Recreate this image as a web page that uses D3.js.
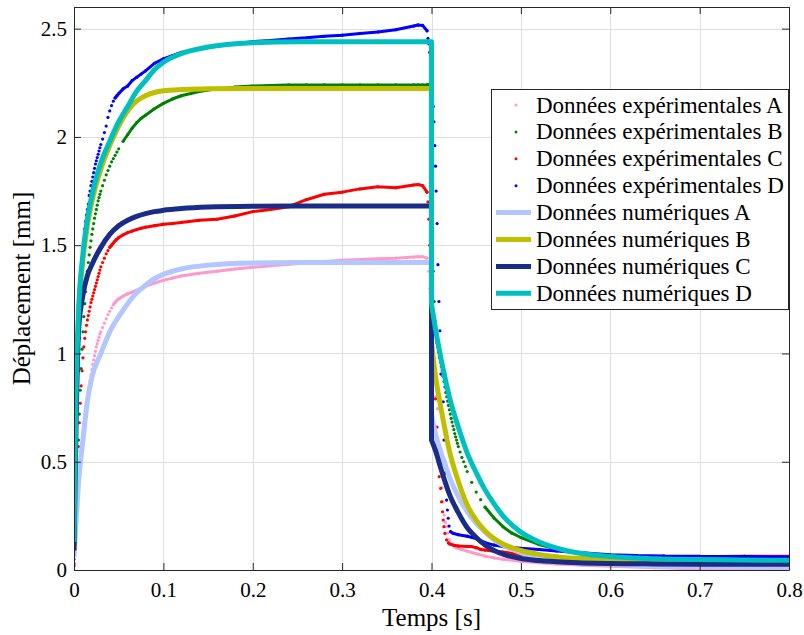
<!DOCTYPE html>
<html><head><meta charset="utf-8">
<script src="https://cdn.jsdelivr.net/npm/d3@7"></script>
<style>
body{margin:0;background:#fff}
svg{display:block}
text{font-family:"Liberation Serif","Times New Roman",serif;fill:#000}
</style>
</head><body>
<svg id="chart" width="804" height="635"></svg>
<script>
// ---------- data ----------
const xTicks = [0,0.1,0.2,0.3,0.4,0.5,0.6,0.7,0.8];
const xTickLabels = ["0","0.1","0.2","0.3","0.4","0.5","0.6","0.7","0.8"];
const yTicks = [0,0.5,1,1.5,2,2.5];
const yTickLabels = ["0","0.5","1","1.5","2","2.5"];
const xLabel = "Temps [s]";
const yLabel = "Déplacement [mm]";
const legendLabels = ["Données expérimentales A","Données expérimentales B","Données expérimentales C","Données expérimentales D",
  "Données numériques A","Données numériques B","Données numériques C","Données numériques D"];

// experimental readings, loading phase (shared time base)
const expRiseT = [0,0.001,0.002,0.003,0.004,0.005,0.006,0.007,0.008,0.009,
  0.010,0.011,0.012,0.013,0.014,0.015,0.016,0.017,0.018,0.019,
  0.020,0.021,0.022,0.023,0.024,0.025,0.026,0.027,0.028,0.029,
  0.030,0.032,0.034,0.036,0.038,0.040,0.042,0.044,0.046,0.048,
  0.050,0.055,0.060,0.065,0.070,0.075,0.080,0.090,0.100,0.110,
  0.120,0.140,0.160,0.180,0.200,0.220,0.240,0.260,0.280,0.300,
  0.320,0.340,0.360,0.380,0.385,0.390,0.395];
const expA_rise = [0.03,0.08,0.15,0.22,0.29,0.36,0.42,0.48,0.54,0.59,
  0.64,0.68,0.715,0.745,0.775,0.80,0.825,0.85,0.875,0.90,
  0.925,0.95,0.97,0.99,1.01,1.03,1.045,1.06,1.075,1.09,
  1.10,1.12,1.14,1.16,1.18,1.195,1.21,1.225,1.235,1.245,
  1.252,1.265,1.275,1.283,1.292,1.30,1.31,1.325,1.338,1.348,
  1.358,1.37,1.38,1.39,1.398,1.405,1.412,1.418,1.425,1.43,
  1.434,1.437,1.44,1.445,1.447,1.447,1.44];
const expB_rise = [0.05,0.12,0.22,0.34,0.47,0.60,0.72,0.83,0.93,1.02,
  1.10,1.17,1.23,1.285,1.335,1.38,1.42,1.455,1.49,1.52,
  1.55,1.575,1.60,1.625,1.645,1.665,1.685,1.705,1.72,1.735,
  1.75,1.775,1.80,1.825,1.845,1.865,1.885,1.90,1.915,1.93,
  1.945,1.98,2.01,2.04,2.065,2.085,2.10,2.13,2.155,2.175,
  2.19,2.21,2.222,2.23,2.235,2.238,2.24,2.24,2.24,2.24,
  2.24,2.24,2.24,2.24,2.24,2.24,2.24];
const expC_rise = [0.03,0.10,0.20,0.32,0.45,0.57,0.68,0.77,0.85,0.92,
  0.98,1.03,1.07,1.10,1.13,1.155,1.175,1.195,1.215,1.235,
  1.25,1.265,1.28,1.295,1.31,1.325,1.34,1.355,1.37,1.385,
  1.40,1.42,1.44,1.46,1.475,1.49,1.50,1.51,1.52,1.528,
  1.535,1.548,1.558,1.565,1.572,1.578,1.583,1.59,1.597,1.60,
  1.605,1.615,1.62,1.635,1.655,1.665,1.678,1.71,1.735,1.745,
  1.76,1.77,1.765,1.778,1.78,1.775,1.745];
const expD_rise = [0.02,0.15,0.35,0.55,0.75,0.92,1.07,1.20,1.30,1.39,
  1.46,1.52,1.575,1.61,1.64,1.665,1.69,1.73,1.75,1.775,
  1.795,1.815,1.835,1.855,1.875,1.89,1.905,1.92,1.935,1.95,
  1.965,1.99,2.02,2.05,2.09,2.12,2.145,2.165,2.18,2.19,
  2.20,2.222,2.235,2.26,2.275,2.29,2.305,2.34,2.36,2.375,
  2.39,2.405,2.42,2.43,2.44,2.445,2.452,2.458,2.465,2.47,
  2.478,2.485,2.495,2.512,2.517,2.515,2.49];

// experimental readings, unloading phase
const expA_fallT = [0.396,0.397,0.398,0.399,0.400,0.401,0.402,0.403,0.4045,0.4068,
  0.4086,0.4094,0.4105,0.4118,0.413,0.4142,0.4155,0.4168,0.418,0.420,
  0.423,0.427,0.433,0.440,0.450,0.460,0.470,0.480,0.500,0.520,
  0.540,0.570,0.600,0.650,0.700,0.750,0.800];
const expA_fall = [1.42,1.38,1.30,1.22,1.13,1.04,0.95,0.87,0.80,0.745,
  0.57,0.539,0.49,0.38,0.315,0.254,0.22,0.20,0.17,0.14,
  0.118,0.105,0.095,0.087,0.075,0.064,0.056,0.05,0.04,0.034,
  0.028,0.022,0.017,0.01,0.005,0.002,0.0];
const expB_fallT = [0.396,0.397,0.398,0.399,0.400,0.401,0.402,0.403,0.404,0.405,
  0.406,0.407,0.408,0.409,0.410,0.411,0.412,0.413,0.414,0.415,
  0.416,0.417,0.418,0.419,0.420,0.421,0.422,0.423,0.424,0.425,
  0.426,0.427,0.428,0.429,0.430,0.432,0.434,0.436,0.438,0.440,
  0.445,0.450,0.455,0.460,0.470,0.480,0.490,0.500,0.520,0.540,
  0.560,0.580,0.600,0.650,0.700,0.750,0.800];
const expB_fall = [2.24,2.24,2.235,2.15,1.90,1.60,1.38,1.24,1.15,1.09,
  1.05,1.03,1.005,0.98,0.96,0.94,0.92,0.895,0.87,0.845,
  0.82,0.80,0.78,0.76,0.74,0.72,0.70,0.683,0.665,0.648,
  0.63,0.615,0.60,0.585,0.57,0.545,0.52,0.50,0.478,0.455,
  0.405,0.36,0.325,0.29,0.24,0.20,0.17,0.15,0.118,0.097,
  0.082,0.072,0.064,0.055,0.05,0.048,0.046];
const expC_fallT = [0.396,0.397,0.398,0.399,0.400,0.401,0.402,0.403,0.4046,0.4062,
  0.4075,0.4086,0.4102,0.4113,0.4124,0.4131,0.4139,0.415,0.4169,0.419,
  0.4206,0.425,0.430,0.440,0.445,0.450,0.455,0.460,0.470,0.480,
  0.500,0.520,0.540,0.560,0.580,0.600,0.630,0.660,0.700,0.720,
  0.750,0.800];
const expC_fall = [1.70,1.62,1.50,1.37,1.25,1.12,1.00,0.92,0.79,0.66,
  0.554,0.431,0.377,0.315,0.269,0.231,0.20,0.169,0.139,0.125,
  0.12,0.114,0.111,0.109,0.108,0.103,0.095,0.092,0.087,0.083,
  0.07,0.064,0.06,0.056,0.054,0.053,0.052,0.054,0.058,0.062,
  0.064,0.063];
const expD_fallT = [0.396,0.397,0.398,0.399,0.400,0.401,0.402,0.4027,0.4037,0.4045,
  0.4052,0.4063,0.4072,0.4083,0.4094,0.4105,0.4131,0.414,0.415,0.4169,
  0.4178,0.4187,0.4197,0.4213,0.424,0.430,0.440,0.450,0.460,0.470,
  0.480,0.500,0.520,0.540,0.560,0.580,0.600,0.630,0.660,0.700,
  0.750,0.800];
const expD_fall = [2.455,2.43,2.39,2.34,2.28,2.21,2.14,2.07,1.96,1.865,
  1.75,1.60,1.41,1.24,1.105,0.905,0.777,0.60,0.447,0.323,
  0.277,0.239,0.203,0.177,0.17,0.163,0.156,0.145,0.126,0.115,
  0.108,0.10,0.095,0.088,0.082,0.076,0.07,0.067,0.065,0.063,
  0.062,0.06];

// numerical results
const numRiseT = [0,0.002,0.005,0.01,0.015,0.02,0.03,0.04,0.05,0.06,0.07,0.08,0.09,0.1,0.12,0.15,0.2,0.25,0.3,0.35,0.4];
const numA_rise = [0.06,0.2,0.4,0.6,0.78,0.89,1.0,1.1,1.17,1.23,1.28,1.315,1.345,1.365,1.39,1.408,1.418,1.42,1.42,1.42,1.42];
const numB_rise = [0.12,0.74,1.16,1.43,1.59,1.70,1.85,1.96,2.05,2.12,2.165,2.19,2.205,2.213,2.219,2.222,2.224,2.224,2.224,2.224,2.224];
const numC_rise = [0.09,0.6,1.1,1.27,1.36,1.41,1.49,1.55,1.59,1.615,1.633,1.646,1.655,1.661,1.669,1.676,1.68,1.681,1.681,1.681,1.681];
const numD_rise = [0.13,0.75,1.18,1.46,1.62,1.73,1.88,1.98,2.07,2.14,2.21,2.26,2.31,2.345,2.385,2.415,2.435,2.44,2.44,2.44,2.44];
const numFallT = [0.4,0.405,0.41,0.415,0.42,0.43,0.44,0.45,0.46,0.47,0.48,0.5,0.52,0.55,0.6,0.65,0.7,0.8];
const numA_fall = [0.72,0.62,0.55,0.49,0.43,0.34,0.27,0.215,0.175,0.14,0.115,0.08,0.058,0.04,0.026,0.019,0.016,0.014];
const numB_fall = [1.05,0.88,0.76,0.65,0.55,0.41,0.30,0.23,0.18,0.145,0.12,0.09,0.072,0.057,0.049,0.046,0.045,0.044];
const numC_fall = [0.60,0.545,0.475,0.41,0.35,0.265,0.195,0.15,0.115,0.09,0.073,0.053,0.044,0.036,0.03,0.028,0.027,0.026];
const numD_fall = [1.23,1.10,0.99,0.89,0.80,0.66,0.54,0.45,0.37,0.305,0.25,0.175,0.13,0.09,0.062,0.052,0.048,0.045];

// ---------- styles ----------
const expColors = ["#ff99cc","#008000","#ff0000","#0000ff"];
const numColors = ["#b3c6ff","#bfbf00","#192d88","#00bfbf"];
const axisColor = "#262626";
const gridColor = "#dfdfdf";
const serif = '"Liberation Serif","Times New Roman",serif';

// ---------- chart ----------
const svg = d3.select("#chart");
const M = {left:74, right:789, top:7, bottom:570};
const x = d3.scaleLinear().domain([0,0.8]).range([M.left, M.right]);
const y = d3.scaleLinear().domain([0,2.6]).range([M.bottom, M.top]);

svg.append("defs").append("clipPath").attr("id","clip")
  .append("rect").attr("x",M.left).attr("y",M.top).attr("width",M.right-M.left).attr("height",M.bottom-M.top);

// grid
const grid = svg.append("g").attr("shape-rendering","crispEdges");
grid.selectAll("line.gx").data(xTicks).join("line")
  .attr("x1",d=>Math.round(x(d))+0.5).attr("x2",d=>Math.round(x(d))+0.5)
  .attr("y1",M.top).attr("y2",M.bottom).attr("stroke",gridColor);
grid.selectAll("line.gy").data(yTicks).join("line")
  .attr("y1",d=>Math.round(y(d))+0.5).attr("y2",d=>Math.round(y(d))+0.5)
  .attr("x1",M.left).attr("x2",M.right).attr("stroke",gridColor);

const plot = svg.append("g").attr("clip-path","url(#clip)");

function drawExp(times, vals, color){
  const pts = times.map((t,i)=>[x(t), y(vals[i])]);
  let d = "";
  for(let i=1;i<pts.length;i++){
    const [x0,y0]=pts[i-1],[x1,y1]=pts[i];
    if(Math.abs(y1-y0) <= 1.5*Math.abs(x1-x0)) d += `M${x0},${y0}L${x1},${y1}`;
  }
  const g = plot.append("g");
  if(d) g.append("path").attr("d",d).attr("fill","none").attr("stroke",color)
    .attr("stroke-width",3).attr("stroke-linecap","round");
  g.selectAll("circle").data(pts).join("circle")
    .attr("cx",p=>p[0]).attr("cy",p=>p[1]).attr("r",1.6).attr("fill",color);
}

const lineGen = d3.line().x(d=>x(d[0])).y(d=>y(d[1])).curve(d3.curveMonotoneX);
function drawNum(riseV, fallV, color){
  const dr = lineGen(d3.zip(numRiseT, riseV));
  const df = lineGen(d3.zip(numFallT, fallV));
  plot.append("path").attr("d", dr + df.replace(/^M/,"L"))
    .attr("fill","none").attr("stroke",color).attr("stroke-width",5)
    .attr("stroke-linejoin","round");
}

drawExp(expRiseT.concat(expA_fallT), expA_rise.concat(expA_fall), expColors[0]);
drawExp(expRiseT.concat(expB_fallT), expB_rise.concat(expB_fall), expColors[1]);
drawExp(expRiseT.concat(expC_fallT), expC_rise.concat(expC_fall), expColors[2]);
drawExp(expRiseT.concat(expD_fallT), expD_rise.concat(expD_fall), expColors[3]);
drawNum(numA_rise, numA_fall, numColors[0]);
drawNum(numB_rise, numB_fall, numColors[1]);
drawNum(numC_rise, numC_fall, numColors[2]);
drawNum(numD_rise, numD_fall, numColors[3]);

// axes
function styleAxis(g){
  g.attr("font-family", null).attr("font-size", null);
  g.select(".domain").attr("stroke",axisColor);
  g.selectAll(".tick line").attr("stroke",axisColor);
  g.selectAll(".tick text").style("fill","#000").style("font-size","21px").style("font-family",serif);
}
svg.append("g").attr("transform",`translate(0,${M.bottom})`)
  .call(d3.axisBottom(x).tickValues(xTicks).tickFormat((d,i)=>xTickLabels[i]).tickSizeInner(-7).tickSizeOuter(0).tickPadding(12))
  .call(styleAxis);
svg.append("g").attr("transform",`translate(0,${M.top})`)
  .call(d3.axisTop(x).tickValues(xTicks).tickFormat("").tickSizeInner(-7).tickSizeOuter(0))
  .call(styleAxis);
svg.append("g").attr("transform",`translate(${M.left},0)`)
  .call(d3.axisLeft(y).tickValues(yTicks).tickFormat((d,i)=>yTickLabels[i]).tickSizeInner(-7).tickSizeOuter(0).tickPadding(7))
  .call(styleAxis);
svg.append("g").attr("transform",`translate(${M.right},0)`)
  .call(d3.axisRight(y).tickValues(yTicks).tickFormat("").tickSizeInner(-7).tickSizeOuter(0))
  .call(styleAxis);

// axis labels
svg.append("text").attr("x",(M.left+M.right)/2).attr("y",626).attr("text-anchor","middle")
  .style("font-size","25px").style("font-family",serif).text(xLabel);
svg.append("text").attr("transform",`translate(30,${(M.top+M.bottom)/2}) rotate(-90)`)
  .attr("text-anchor","middle").style("font-size","25px").style("font-family",serif).text(yLabel);

// legend
const L = {x:491, y:89, w:297, h:220, row0:105, step:26.9};
const leg = svg.append("g");
leg.append("rect").attr("x",L.x+0.5).attr("y",L.y+0.5).attr("width",L.w).attr("height",L.h)
  .attr("fill","#fff").attr("stroke",axisColor).attr("stroke-width",1);
const legItems = legendLabels.map((lab,i)=>({lab, i, type: i<4?"dot":"line", color: i<4?expColors[i]:numColors[i-4]}));
const li = leg.selectAll("g.item").data(legItems).join("g")
  .attr("transform",d=>`translate(0,${L.row0 + d.i*L.step})`);
li.filter(d=>d.type==="dot").append("circle").attr("cx",516).attr("cy",0).attr("r",1.5).attr("fill",d=>d.color);
li.filter(d=>d.type==="line").append("line").attr("x1",496).attr("x2",531).attr("y1",0).attr("y2",0)
  .attr("stroke",d=>d.color).attr("stroke-width",5);
li.append("text").attr("x",536).attr("y",7.5).style("font-size","23px").style("font-family",serif).text(d=>d.lab);
</script>
</body></html>
